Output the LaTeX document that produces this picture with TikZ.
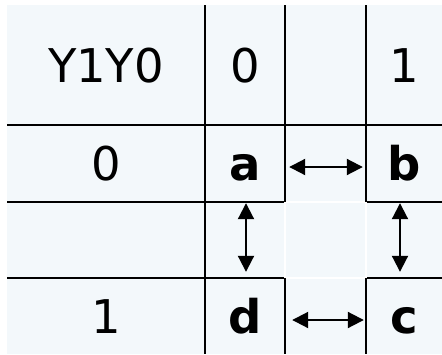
\documentclass[tikz,border=0pt]{standalone}
\usepackage{fontspec}
\setmainfont{DejaVu Sans}
\usetikzlibrary{arrows.meta}
\definecolor{bgc}{HTML}{F3F8FB}
\tikzset{
  cell/.style={inner sep=0pt, text height=34pt, text depth=0pt, font=\fontsize{46.5}{50}\selectfont},
  bcell/.style={cell, font=\fontsize{46.5}{50}\selectfont\bfseries},
  grid/.style={line width=2.8pt, black},
  wgrid/.style={line width=1.2pt, white},
  dbl/.style={line width=2pt, {Triangle[length=16pt,width=16pt]}-{Triangle[length=16pt,width=16pt]}}
}
\begin{document}
\begin{tikzpicture}[x=1pt,y=-1pt]
\useasboundingbox (0,0) rectangle (442,354);
\fill[bgc] (7,5) rectangle (442,354);
% grid
\draw[grid] (7,125) -- (442,125);
\draw[grid] (7,202) -- (285,202);
\draw[grid] (366,202) -- (442,202);
\draw[grid] (7,278) -- (285,278);
\draw[grid] (366,278) -- (442,278);
\draw[wgrid] (285,202) -- (366,202);
\draw[wgrid] (285,278) -- (366,278);
\draw[wgrid] (285,202) -- (285,278);
\draw[wgrid] (366,202) -- (366,278);
\draw[grid] (205,5) -- (205,354);
\draw[grid] (285,5) -- (285,202);
\draw[grid] (285,278) -- (285,354);
\draw[grid] (366,5) -- (366,202);
\draw[grid] (366,278) -- (366,354);
% texts
\node[cell] (hdr) at (106,65) {Y1Y0};
\node[cell] (c0) at (245,65) {0};
\node[cell] (c1) at (404,65) {1};
\node[cell] (r0) at (106,163.5) {0};
\node[cell] (r1) at (106,316) {1};
% cells
\node[bcell, minimum width=80pt, minimum height=77pt] (a) at (245,163.5) {a};
\node[bcell, minimum width=76pt, minimum height=77pt] (b) at (404,163.5) {b};
\node[bcell, minimum width=80pt, minimum height=76pt] (d) at (245,316) {d};
\node[bcell, minimum width=76pt, minimum height=76pt] (c) at (404,316) {c};
% arrows
\draw[dbl] ([xshift=4pt,yshift=-3.5pt]a.east) -- ([xshift=-3pt,yshift=-3.5pt]b.west);
\draw[dbl] ([xshift=7pt,yshift=-4pt]d.east) -- ([xshift=-2pt,yshift=-4pt]c.west);
\draw[dbl] ([xshift=1pt,yshift=-1pt]a.south) -- ([xshift=1pt,yshift=6pt]d.north);
\draw[dbl] ([xshift=-4pt,yshift=-1pt]b.south) -- ([xshift=-4pt,yshift=6pt]c.north);
\end{tikzpicture}
\end{document}
